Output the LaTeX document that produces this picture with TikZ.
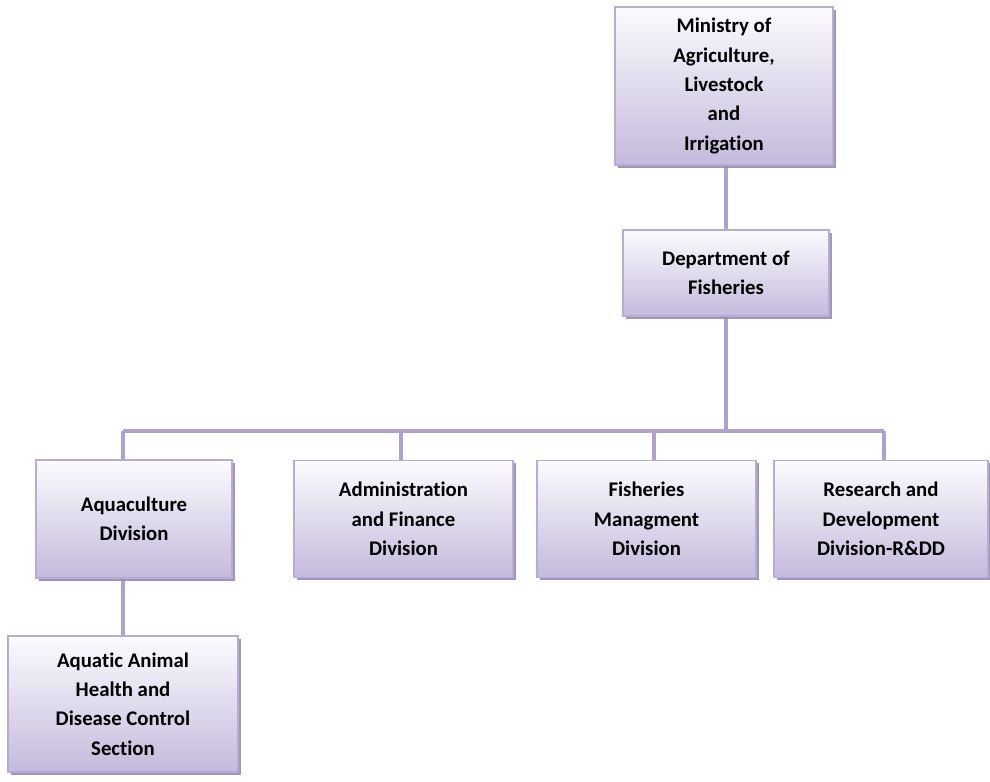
\documentclass[tikz,border=0pt]{standalone}
\usepackage{fontspec}
\setmainfont{Carlito}[Ligatures=NoCommon]
\usetikzlibrary{shadows,backgrounds}

\definecolor{boxtop}{RGB}{252,251,254}
\definecolor{boxbot}{RGB}{196,186,220}
\definecolor{boxline}{RGB}{184,172,214}
\definecolor{linkc}{RGB}{176,160,206}
\definecolor{shadowc}{RGB}{150,140,172}

\tikzset{
  orgbox/.style={draw=boxline, line width=0.8pt, top color=boxtop, bottom color=boxbot,
    align=center, inner sep=2pt, font=\fontsize{15.6}{22}\selectfont\bfseries,
    drop shadow={shadow xshift=2.2pt, shadow yshift=-2.2pt, fill=shadowc, opacity=0.9}},
  link/.style={draw=linkc, line width=2.4pt}
}

\begin{document}
\begin{tikzpicture}[x=0.75pt,y=0.75pt,yscale=-1,xscale=1]
\useasboundingbox (0,0) rectangle (990,782);

% boxes
\node[orgbox, minimum width=218*0.75pt, minimum height=158*0.75pt] (min) at (724,86)
  {Ministry of\\Agriculture,\\Livestock\\and\\Irrigation};
\node[orgbox, minimum width=206*0.75pt, minimum height=86*0.75pt] (dept) at (726,273)
  {Department of\\Fisheries};
\node[orgbox, minimum width=196*0.75pt, minimum height=118*0.75pt] (aqua) at (134,519)
  {Aquaculture\\Division};
\node[orgbox, minimum width=219*0.75pt, minimum height=117*0.75pt] (admin) at (403.5,519)
  {Administration\\and Finance\\Division};
\node[orgbox, minimum width=219*0.75pt, minimum height=117*0.75pt] (fish) at (646.5,519)
  {Fisheries\\Managment\\Division};
\node[orgbox, minimum width=214*0.75pt, minimum height=117*0.75pt] (rnd) at (881,519)
  {Research and\\Development\\Division-R\&DD};
\node[orgbox, minimum width=230*0.75pt, minimum height=136*0.75pt] (sect) at (123,704)
  {Aquatic Animal\\Health and\\Disease Control\\Section};

% bus junctions
\coordinate (bus) at (726,431);
\coordinate (jA) at (123,431);
\coordinate (jB) at (401,431);
\coordinate (jC) at (654,431);
\coordinate (jD) at (884,431);

\begin{scope}[on background layer]
\draw[link] (dept.north) -- (dept.north |- min.south);
\draw[link] (dept.south) -- (bus);
\draw[link] (jA) -- (jD);
\draw[link] (jA) -- (jA |- aqua.north);
\draw[link] (jB) -- (jB |- admin.north);
\draw[link] (jC) -- (jC |- fish.north);
\draw[link] (jD) -- (jD |- rnd.north);
\draw[link] (jA |- aqua.south) -- (jA |- sect.north);
\end{scope}

\end{tikzpicture}
\end{document}
